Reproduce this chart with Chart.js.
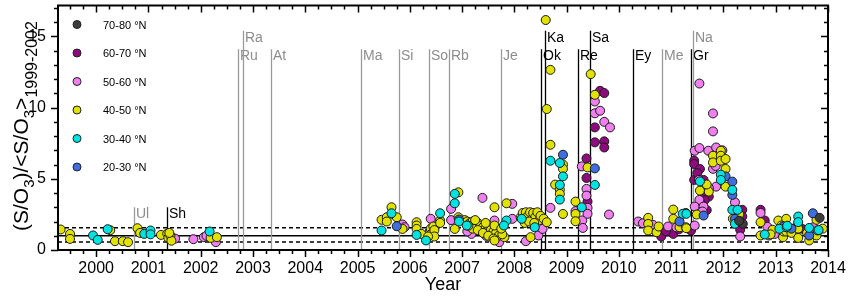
<!DOCTYPE html>
<html><head><meta charset="utf-8">
<script src="https://cdn.jsdelivr.net/npm/chart.js@4/dist/chart.umd.min.js"></script>
<style>html,body{margin:0;padding:0;background:#fff}canvas{display:block}</style>
</head><body>
<canvas id="c" width="848" height="299" style="width:848px;height:299px"></canvas>
<script>
// ---- data ----
const categories = ['70-80 °N','60-70 °N','50-60 °N','40-50 °N','30-40 °N','20-30 °N'];
const lat7080 = [[2012.37,1.84],[2013.84,2.26],[2012.30,2.05]];
const lat6070 = [[2009.38,6.43],[2009.38,5.06],[2009.40,3.40],[2009.64,11.18],[2009.72,11.02],[2009.54,8.61],[2009.54,7.56],[2009.72,7.63],[2009.72,7.20],
 [2010.81,0.95],[2011.04,1.13],[2011.35,1.48],[2010.90,1.30],[2011.15,1.45],
 [2011.44,6.27],[2011.44,6.04],[2011.55,5.69],[2011.44,4.92],[2011.62,4.92],[2011.72,3.75],[2011.64,3.50],[2011.68,2.80],[2011.38,1.37],[2011.50,5.40],[2011.60,4.10],[2011.58,3.20],
 [2012.36,2.82],[2012.36,2.35],[2012.32,1.42],[2012.30,2.00],[2012.71,2.82],[2012.79,2.07],[2013.50,1.50]];
const lat5060 = [[2001.51,0.80],[2001.86,0.76],[2002.06,0.90],[2002.11,1.00],[2002.29,0.55],
 [2005.86,1.79],[2005.90,1.60],[2006.40,2.19],[2006.45,1.10],[2006.38,1.30],[2006.79,2.89],[2006.79,2.10],[2007.18,1.13],[2007.10,1.30],[2007.39,3.66],[2007.30,1.90],
 [2007.62,2.07],[2007.46,1.00],[2007.50,1.20],[2007.71,0.55],[2007.96,3.24],[2007.96,2.19],[2008.22,0.62],[2008.46,1.02],[2008.54,1.48],[2008.69,2.96],
 [2009.17,2.73],[2009.30,2.08],[2009.31,1.55],[2009.29,5.87],[2009.38,4.29],[2009.38,3.82],[2009.40,2.96],[2009.40,2.54],[2009.54,10.43],[2009.54,9.60],[2009.64,9.78],[2009.72,9.00],[2009.83,8.61],[2009.81,2.49],
 [2010.37,2.00],[2010.46,1.88],[2010.65,1.77],[2010.94,1.65],[2011.10,1.59],
 [2011.54,11.69],[2011.80,9.59],[2011.80,8.33],[2011.45,6.97],[2011.54,7.16],[2011.71,6.97],[2011.86,7.20],[2011.98,7.00],[2011.80,5.70],[2011.85,5.90],[2011.86,4.45],[2011.72,4.36],[2011.53,4.92],[2011.54,3.52],[2011.45,3.05],[2011.62,3.05],[2011.45,1.72],[2011.60,2.70],
 [2012.22,3.35],[2012.32,0.95],[2012.71,2.60],[2012.87,1.02],[2012.84,1.63],[2012.97,1.20],[2012.98,1.13],[2013.72,1.60],[2013.80,1.30],[2013.75,1.25],[2013.35,1.50]];
const lat4050 = [[1999.32,1.44],[1999.50,1.13],[1999.50,0.78],[2000.27,1.39],[2000.36,0.62],[2000.51,0.62],[2000.61,0.55],[2000.79,1.53],[2000.84,1.20],[2001.24,1.06],[2001.36,1.15],[2001.38,0.85],[2001.42,1.00],[2001.44,0.65],[2001.40,1.20],[2002.19,0.85],[2002.31,0.90],
 [2005.46,2.12],[2005.56,2.30],[2005.56,2.00],[2005.65,3.00],[2005.75,2.30],[2005.86,1.48],[2006.13,1.95],[2006.13,1.72],[2006.13,1.48],[2006.22,1.13],[2006.40,1.50],[2006.40,1.10],[2006.45,1.65],[2006.47,1.40],[2006.47,0.95],[2006.58,2.07],[2006.58,1.90],[2006.35,0.95],
 [2006.93,4.05],[2006.86,1.48],[2006.93,2.30],[2007.05,2.10],[2007.10,2.00],[2007.15,1.90],[2007.20,2.00],[2007.25,1.80],[2007.30,1.90],[2007.35,1.70],[2007.40,1.60],[2007.45,1.50],[2007.50,1.70],[2007.55,1.40],[2007.60,1.30],[2007.65,1.20],[2007.70,1.00],
 [2007.20,1.50],[2007.30,1.40],[2007.40,1.20],[2007.50,1.00],[2007.60,0.80],[2007.12,1.70],[2007.25,2.10],[2007.45,1.90],[2007.62,3.00],[2007.62,1.72],[2007.62,0.67],[2007.85,3.28],[2007.81,0.90],[2007.77,1.10],[2007.75,1.50],
 [2008.12,2.30],[2008.16,2.60],[2008.20,2.20],[2008.22,2.65],[2008.26,2.40],[2008.30,2.65],[2008.34,2.20],[2008.36,2.60],[2008.40,2.30],[2008.44,2.65],[2008.48,2.10],[2008.50,2.40],[2008.20,1.90],[2008.28,2.00],[2008.38,1.90],[2008.56,2.20],[2008.62,1.95],[2008.31,0.90],
 [2008.60,16.15],[2008.69,12.65],[2008.62,9.90],[2008.69,7.39],[2008.93,6.00],[2008.93,5.70],[2008.78,4.59],[2008.87,4.24],[2008.87,3.94],[2008.93,2.53],[2009.17,3.40],[2009.17,2.53],[2009.17,2.02],[2009.40,5.80],[2009.46,12.35],[2009.54,10.90],
 [2010.56,2.26],[2010.56,1.83],[2010.56,1.37],[2010.72,1.25],[2010.76,1.65],[2011.04,2.84],[2011.04,2.19],[2011.16,1.60],[2011.28,1.60],[2011.29,1.53],[2011.49,2.49],[2011.55,4.17],[2011.72,4.10],[2011.68,4.60],
 [2011.80,6.62],[2011.80,6.15],[2011.95,6.97],[2011.95,6.62],[2011.95,6.27],[2012.04,6.39],[2012.04,5.69],[2012.04,4.45],[2012.18,2.20],[2012.25,2.70],[2012.30,2.50],
 [2012.71,1.95],[2012.71,1.02],[2012.94,1.42],[2013.05,2.07],[2013.14,0.90],[2013.20,2.19],[2013.15,1.30],[2013.11,1.72],[2013.20,1.30],[2013.30,1.20],[2013.43,1.77],[2013.43,1.50],[2013.43,0.85],[2013.64,0.67],[2013.78,2.12],[2013.78,1.02],[2013.60,1.20],[2013.90,1.50],[2012.90,1.10]];
const lat3040 = [[1999.94,1.02],[2000.03,0.71],[2000.22,1.46],[2000.92,1.13],[2001.04,1.37],[2001.04,1.10],[2002.17,1.30],
 [2005.46,1.37],[2005.65,2.58],[2006.13,1.06],[2006.31,0.67],[2006.58,2.58],[2006.86,3.28],[2006.86,3.94],[2006.94,2.00],[2007.09,1.72],[2007.85,2.07],[2007.80,1.72],[2008.14,2.19],[2008.39,1.60],
 [2008.69,6.27],[2008.87,6.11],[2008.93,5.17],[2008.87,4.57],[2008.87,3.54],[2009.29,3.00],[2009.54,4.57],[2011.22,2.54],[2011.55,4.82],[2011.29,2.54],
 [2011.95,5.29],[2011.95,4.92],[2012.17,4.22],[2012.17,2.82],[2012.27,2.82],[2012.22,1.84],[2012.79,1.09],[2013.07,1.49],[2013.21,1.60],[2013.22,1.70],[2013.43,2.35],[2013.43,1.96],[2013.64,1.55],[2013.80,1.37],[2013.82,1.40]];
const lat2030 = [[2005.75,1.67],[2006.94,2.14],[2008.93,6.69],[2009.54,5.73],[2011.16,2.00],[2011.28,2.60],[2011.62,2.42],[2012.04,5.17],[2012.17,4.80],[2012.17,3.87],[2012.22,2.19],[2013.14,1.65],[2013.20,1.60],[2013.64,1.02],[2013.71,2.58],[2013.30,1.50]];
const seriesData = [lat7080, lat6070, lat5060, lat4050, lat3040, lat2030];

const yearTicks = [2000,2001,2002,2003,2004,2005,2006,2007,2008,2009,2010,2011,2012,2013,2014];
const valueTicks = [0,5,10,15];
const refLines = [1.0, 1.57, 0.57];           // mean and bounds
const eventNames = ['Ul','Sh','Ru','Ra','At','Ma','Si','So','Rb','Je','Ok','Ka','Re','Sa','Ey','Me','Gr','Na'];
const eventYears = [2000.73,2001.36,2002.72,2002.81,2003.35,2005.07,2005.79,2006.37,2006.75,2007.74,2008.51,2008.59,2009.22,2009.45,2010.27,2010.82,2011.38,2011.42];
const eventTop   = [3.0,3.0,14.1,15.4,14.1,14.1,14.1,14.1,14.1,14.1,14.1,15.4,14.1,15.4,14.1,14.1,14.1,15.4];
const eventDark  = [0,1,0,0,0,0,0,0,0,0,1,1,1,1,1,0,1,0];

// ---- styles ----
const colors = ['#3d3d3d','#8e0b7e','#f07ff0','#e2e200','#00e3e3','#3f6ee0'];
const drawOrder = [0, 3, 2, 1, 0, 0];
const FONT = 'Liberation Sans, Arial, sans-serif';
const X_MIN = 1999.27, X_MAX = 2014.0, Y_MIN = 0, Y_MAX = 17.17;

const decor = {
  id: 'decor',
  beforeDatasetsDraw(chart) {
    const {ctx, chartArea: a, scales: {x, y}} = chart;
    ctx.save();
    refLines.forEach((v, i) => {
      const py = y.getPixelForValue(v);
      ctx.beginPath();
      ctx.setLineDash(i === 0 ? [] : [4, 3]);
      ctx.lineWidth = 1.5; ctx.strokeStyle = '#000';
      ctx.moveTo(a.left, py); ctx.lineTo(a.right, py); ctx.stroke();
    });
    ctx.setLineDash([]);
    eventNames.forEach((n, i) => {
      const px = Math.round(x.getPixelForValue(eventYears[i])) + 0.5;
      const top = y.getPixelForValue(eventTop[i]);
      const col = eventDark[i] ? '#000' : '#9a9a9a';
      ctx.beginPath(); ctx.lineWidth = 1.3; ctx.strokeStyle = col;
      ctx.moveTo(px, top); ctx.lineTo(px, a.bottom); ctx.stroke();
      ctx.fillStyle = eventDark[i] ? '#000' : '#8c8c8c';
      ctx.font = '14px ' + FONT; ctx.textBaseline = 'middle'; ctx.textAlign = 'left';
      ctx.fillText(n, px + 1.5, top + 7);
    });
    ctx.restore();
  },
  afterDraw(chart) {
    const {ctx, chartArea: a, scales: {x, y}} = chart;
    ctx.save();
    ctx.strokeStyle = '#000'; ctx.lineWidth = 2;
    ctx.strokeRect(a.left, a.top, a.right - a.left, a.bottom - a.top);
    ctx.lineWidth = 1.5;
    ctx.beginPath();
    for (let q = Math.ceil(X_MIN * 4); q <= X_MAX * 4 + 1e-6; q++) {
      const v = q / 4, px = Math.round(x.getPixelForValue(v)) + 0.5;
      const L = q % 4 === 0 ? 7 : 4;
      ctx.moveTo(px, a.bottom); ctx.lineTo(px, a.bottom + L);
      ctx.moveTo(px, a.top); ctx.lineTo(px, a.top + L);
    }
    for (let v = 0; v <= Y_MAX; v++) {
      const py = Math.round(y.getPixelForValue(v)) + 0.5;
      const L = v % 5 === 0 ? 7 : 4;
      ctx.moveTo(a.left, py); ctx.lineTo(a.left - L, py);
      ctx.moveTo(a.right, py); ctx.lineTo(a.right - L, py);
    }
    ctx.stroke();
    categories.forEach((c, i) => {
      const ly = 24.5 + i * 28.5;
      ctx.beginPath(); ctx.arc(77, ly, 4, 0, Math.PI * 2);
      ctx.fillStyle = colors[i]; ctx.fill();
      ctx.lineWidth = 1; ctx.strokeStyle = '#222'; ctx.stroke();
      ctx.fillStyle = '#000'; ctx.font = '11px ' + FONT;
      ctx.textAlign = 'left'; ctx.textBaseline = 'middle';
      ctx.fillText(c, 103, ly + 1);
    });
    ctx.translate(28, 231); ctx.rotate(-Math.PI / 2);
    ctx.fillStyle = '#000'; ctx.textAlign = 'left'; ctx.textBaseline = 'alphabetic';
    const parts = [['(S/O', 21, 0], ['3', 15, 6], [')/<S/O', 21, 0], ['3', 15, 6], ['>', 21, 0], ['1999-2002', 16, 9]];
    let cx = 0;
    parts.forEach(([t, s, dy]) => {
      ctx.font = s + 'px ' + FONT;
      ctx.fillText(t, cx, dy);
      cx += ctx.measureText(t).width;
    });
    ctx.restore();
  }
};

const datasets = seriesData.map((d, i) => ({
  label: categories[i],
  data: d.map(p => ({x: p[0], y: p[1]})),
  backgroundColor: colors[i],
  borderColor: '#1a1a1a',
  borderWidth: 1,
  pointRadius: 4.5,
  order: drawOrder[i]
}));

new Chart(document.getElementById('c'), {
  type: 'scatter',
  data: {datasets},
  options: {
    responsive: false, animation: false, devicePixelRatio: 1,
    layout: {padding: {left: 0, right: 20, top: 5, bottom: 0}},
    plugins: {legend: {display: false}, tooltip: {enabled: false}},
    scales: {
      x: {
        type: 'linear', min: X_MIN, max: X_MAX,
        grid: {display: false, drawTicks: false}, border: {display: false},
        afterBuildTicks: s => { s.ticks = yearTicks.map(v => ({value: v})); },
        afterFit: s => { s.height = 49; s.paddingLeft = 0; s.paddingRight = 0; },
        ticks: {font: {family: FONT, size: 16}, color: '#000', padding: 9, maxRotation: 0, autoSkip: false, callback: v => String(v)},
        title: {display: true, text: 'Year', font: {family: FONT, size: 18}, color: '#000', padding: {top: 0, bottom: 3}}
      },
      y: {
        type: 'linear', min: Y_MIN, max: Y_MAX,
        grid: {display: false, drawTicks: false}, border: {display: false},
        afterBuildTicks: s => { s.ticks = valueTicks.map(v => ({value: v})); },
        afterFit: s => { s.width = 58; s.paddingTop = 0; s.paddingBottom = 0; },
        ticks: {font: {family: FONT, size: 16}, color: '#000', padding: 12, callback: v => String(v)}
      }
    }
  },
  plugins: [decor]
});
</script>
</body></html>
